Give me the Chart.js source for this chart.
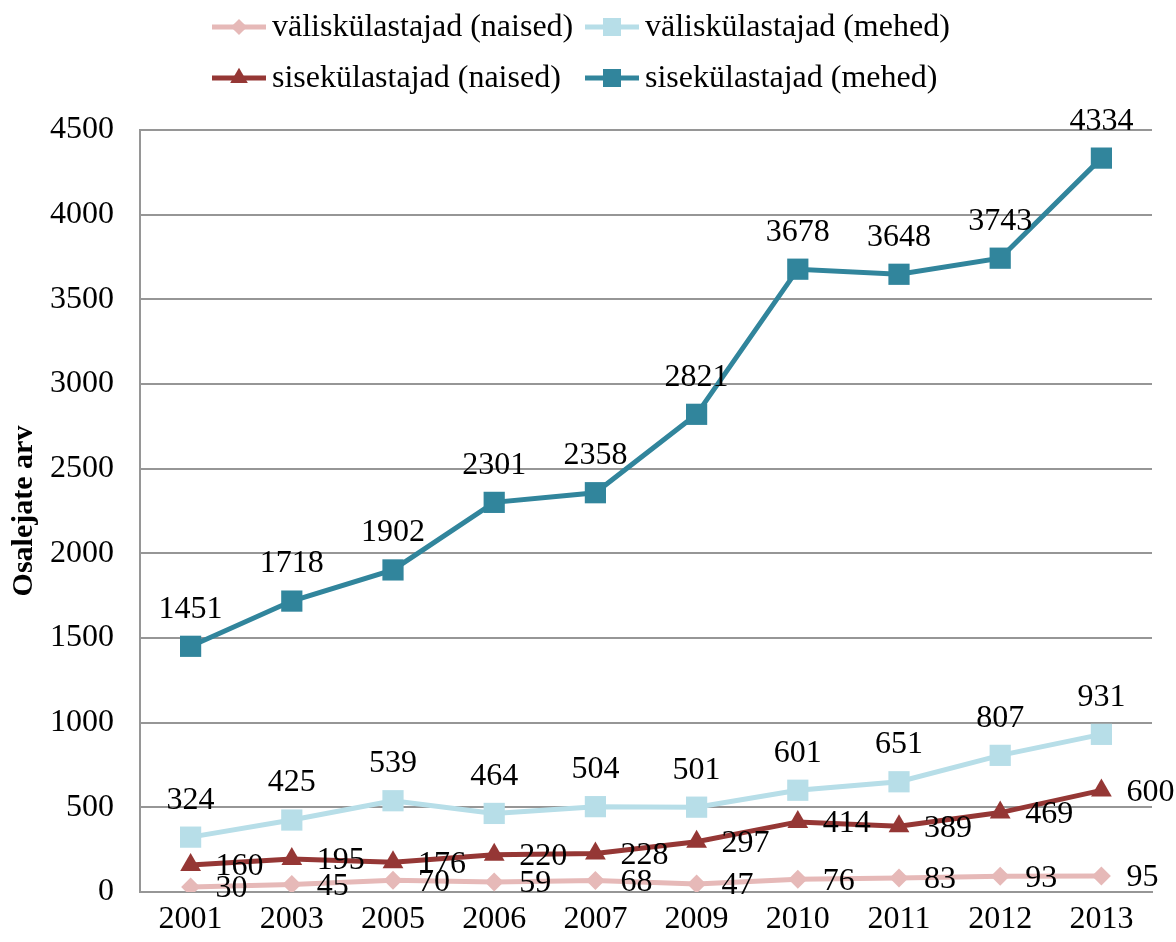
<!DOCTYPE html>
<html><head><meta charset="utf-8">
<script src="https://cdn.jsdelivr.net/npm/chart.js@4/dist/chart.umd.min.js"></script>
<style>html,body{margin:0;padding:0;background:#fff}#wrap{width:1176px;height:942px;position:relative}</style>
</head><body><div id="wrap"><canvas id="c" width="1176" height="942"></canvas></div>
<script>
const years = ['2001','2003','2005','2006','2007','2009','2010','2011','2012','2013'];
const valisNaised = [30,45,70,59,68,47,76,83,93,95];
const valisMehed = [324,425,539,464,504,501,601,651,807,931];
const siseNaised = [160,195,176,220,228,297,414,389,469,600];
const siseMehed = [1451,1718,1902,2301,2358,2821,3678,3648,3743,4334];
const seriesNames = ['väliskülastajad (naised)','väliskülastajad (mehed)','sisekülastajad (naised)','sisekülastajad (mehed)'];
const yTicks = [0,500,1000,1500,2000,2500,3000,3500,4000,4500];

const FONT = '"Liberation Serif","Times New Roman",serif';

function mk(label, data, color, style, radius, pos){
  return {label, data, borderColor:color, backgroundColor:color, pointBackgroundColor:color,
    pointBorderColor:color, pointStyle:style, pointRadius:radius, pointHoverRadius:radius,
    borderWidth:5, pointBorderWidth:0, tension:0, labelPos:pos};
}
const datasets = [
  mk(seriesNames[0], valisNaised, '#E6B9B8', 'rectRot', 9.5, 'right'),
  mk(seriesNames[1], valisMehed, '#B7DEE8', 'rect', 15, 'top'),
  mk(seriesNames[2], siseNaised, '#953735', 'triangle', 12, 'right'),
  mk(seriesNames[3], siseMehed, '#31859C', 'rect', 15, 'top')
];

function marker(ctx, style, x, y, r, color){
  ctx.save(); ctx.fillStyle=color; ctx.beginPath();
  if(style==='rect'){ const s=Math.SQRT1_2*r; ctx.rect(x-s,y-s,2*s,2*s); }
  else if(style==='rectRot'){ ctx.moveTo(x,y-r); ctx.lineTo(x+r,y); ctx.lineTo(x,y+r); ctx.lineTo(x-r,y); ctx.closePath(); }
  else if(style==='triangle'){ ctx.moveTo(x,y-r); ctx.lineTo(x+r*0.866,y+r*0.5); ctx.lineTo(x-r*0.866,y+r*0.5); ctx.closePath(); }
  ctx.fill(); ctx.restore();
}

const legendPlugin = {
  id:'customLegend',
  afterDraw(chart){
    const ctx = chart.ctx;
    const slots = [[212,27],[585,27],[212,78],[585,78]];
    chart.data.datasets.forEach((ds,i)=>{
      const [x,y] = slots[i];
      ctx.save();
      ctx.strokeStyle = ds.borderColor; ctx.lineWidth = 5;
      ctx.beginPath(); ctx.moveTo(x,y); ctx.lineTo(x+54,y); ctx.stroke();
      marker(ctx, ds.pointStyle, x+27, y, ds.pointRadius*0.85, ds.borderColor);
      ctx.fillStyle='#000'; ctx.font='32px '+FONT; ctx.textBaseline='middle'; ctx.textAlign='left';
      ctx.fillText(ds.label, x+60, y+1);
      ctx.restore();
    });
  }
};

const labelPlugin = {
  id:'dataLabels',
  afterDatasetsDraw(chart){
    const ctx = chart.ctx;
    ctx.save();
    ctx.fillStyle='#000'; ctx.font='32px '+FONT;
    chart.data.datasets.forEach((ds,i)=>{
      const meta = chart.getDatasetMeta(i);
      meta.data.forEach((pt,j)=>{
        const v = ds.data[j];
        if(ds.labelPos==='top'){
          ctx.textAlign='center'; ctx.textBaseline='middle';
          ctx.fillText(String(v), pt.x, pt.y-37);
        } else {
          ctx.textAlign='left'; ctx.textBaseline='middle';
          ctx.fillText(String(v), pt.x+25, pt.y+2);
        }
      });
    });
    ctx.restore();
  }
};

new Chart(document.getElementById('c'), {
  type:'line',
  data:{labels:years, datasets},
  plugins:[legendPlugin, labelPlugin],
  options:{
    responsive:false, animation:false, devicePixelRatio:1,
    layout:{padding:{top:130,right:24,left:0,bottom:0}},
    plugins:{legend:{display:false}, tooltip:{enabled:false}},
    scales:{
      x:{
        offset:true,
        grid:{display:false, drawTicks:false},
        border:{display:true, color:'#969696', width:2},
        ticks:{color:'#000', font:{family:FONT, size:32}, padding:8, maxRotation:0, autoSkip:false},
        afterFit(s){ s.height = 50; }
      },
      y:{
        min:0, max:4500,
        afterBuildTicks(s){ s.ticks = yTicks.map(v=>({value:v})); },
        grid:{color:'#969696', lineWidth:2, drawTicks:false},
        border:{display:true, color:'#969696', width:2},
        ticks:{color:'#000', font:{family:FONT, size:32}, padding:26, callback:v=>String(v)},
        title:{display:true, text:'Osalejate arv', color:'#000', font:{family:FONT, size:30, weight:'bold'}, padding:{top:6,bottom:0}},
        afterFit(s){ s.width = 140; }
      }
    }
  }
});
</script></body></html>
